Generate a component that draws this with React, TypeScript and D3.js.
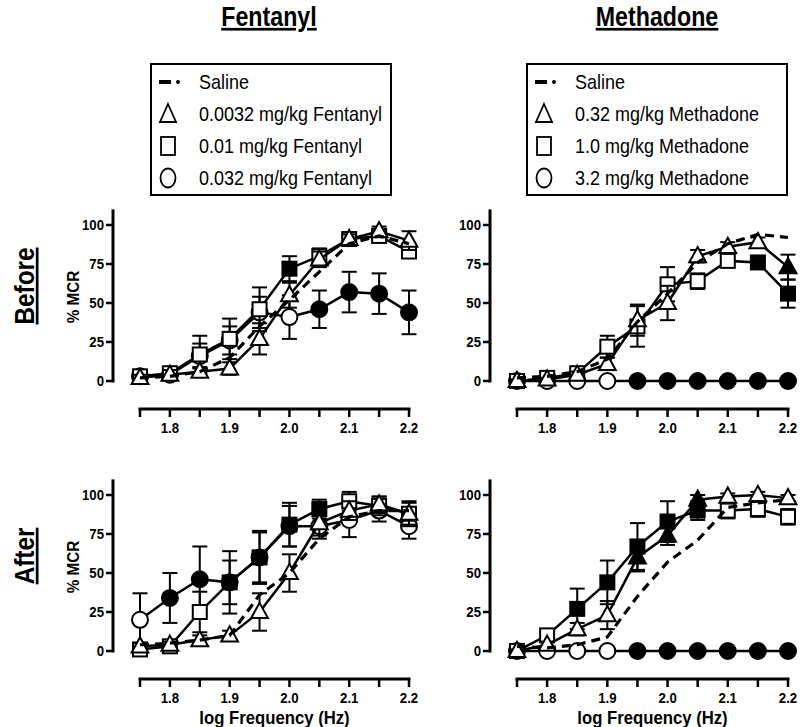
import React from 'react';
import * as d3 from 'd3';

// ---------- data ----------
const freqs = [1.75, 1.8, 1.85, 1.9, 1.95, 2.0, 2.05, 2.1, 2.15, 2.2];
const xTicks = [1.75, 1.8, 1.85, 1.9, 1.95, 2.0, 2.05, 2.1, 2.15, 2.2];
const xTickLabels = ['', '1.8', '', '1.9', '', '2.0', '', '2.1', '', '2.2'];
const yTicks = [0, 25, 50, 75, 100];

const columnTitles = ['Fentanyl', 'Methadone'];
const rowTitles = ['Before', 'After'];
const fentLegend = ['Saline', '0.0032 mg/kg Fentanyl', '0.01 mg/kg Fentanyl', '0.032 mg/kg Fentanyl'];
const methLegend = ['Saline', '0.32 mg/kg Methadone', '1.0 mg/kg Methadone', '3.2 mg/kg Methadone'];

// Before – Fentanyl
const bfSaline = [2, 3, 6, 15, 35, 52, 70, 88, 93, 88];
const bfTri = [2, 4, 6, 8, 27, 55, 78, 91, 96, 90];
const bfTriErr = [2, 3, 3, 4, 10, 8, 5, 3, 3, 6];
const bfTriFill = [0, 0, 0, 0, 0, 0, 0, 0, 0, 0];
const bfSq = [3, 5, 17, 27, 46, 72, 80, 91, 93, 83];
const bfSqErr = [2, 4, 12, 13, 14, 8, 5, 3, 3, 4];
const bfSqFill = [0, 0, 0, 0, 0, 1, 0, 0, 0, 0];
const bfCirc = [3, 4, 16, 26, 44, 41, 46, 57, 56, 44];
const bfCircErr = [2, 3, 8, 9, 10, 14, 12, 13, 13, 14];
const bfCircFill = [0, 0, 0, 0, 0, 0, 1, 1, 1, 1];

// Before – Methadone
const bmSaline = [2, 3, 6, 14, 38, 56, 76, 88, 94, 92];
const bmTri = [0, 1, 4, 11, 39, 50, 80, 86, 89, 73];
const bmTriErr = [1, 1, 2, 4, 10, 11, 4, 3, 3, 8];
const bmTriFill = [0, 0, 0, 0, 0, 0, 0, 0, 0, 1];
const bmSq = [0, 2, 5, 22, 35, 62, 64, 77, 76, 56];
const bmSqErr = [1, 1, 3, 7, 13, 11, 5, 4, 4, 9];
const bmSqFill = [0, 0, 0, 0, 0, 0, 0, 0, 1, 1];
const bmCirc = [0, 0, 0, 0, 0, 0, 0, 0, 0, 0];
const bmCircErr = [0, 0, 0, 0, 0, 0, 0, 0, 0, 0];
const bmCircFill = [0, 0, 0, 0, 1, 1, 1, 1, 1, 1];

// After – Fentanyl
const afSaline = [4, 5, 7, 10, 36, 50, 72, 86, 90, 90];
const afTri = [3, 4, 7, 10, 25, 50, 82, 90, 94, 88];
const afTriErr = [2, 2, 3, 3, 12, 12, 8, 6, 5, 7];
const afTriFill = [0, 0, 0, 0, 0, 0, 0, 0, 0, 0];
const afSq = [1, 3, 25, 44, 60, 81, 91, 96, 93, 88];
const afSqErr = [1, 2, 13, 20, 17, 14, 6, 6, 6, 8];
const afSqFill = [0, 0, 0, 1, 1, 1, 1, 0, 0, 0];
const afCirc = [20, 34, 46, 44, 60, 80, 80, 84, 90, 80];
const afCircErr = [17, 16, 21, 14, 16, 13, 8, 11, 7, 8];
const afCircFill = [0, 1, 1, 1, 1, 1, 0, 0, 0, 0];

// After – Methadone
const amSaline = [3, 2, 4, 9, 35, 57, 71, 92, 95, 97];
const amTri = [0, 4, 14, 23, 60, 74, 97, 99, 100, 98];
const amTriErr = [1, 2, 4, 9, 9, 6, 3, 2, 2, 2];
const amTriFill = [0, 0, 0, 0, 1, 1, 1, 0, 0, 0];
const amSq = [0, 10, 27, 44, 67, 83, 90, 90, 91, 86];
const amSqErr = [1, 4, 13, 14, 15, 13, 6, 5, 5, 5];
const amSqFill = [0, 0, 1, 1, 1, 1, 1, 0, 0, 0];
const amCirc = [0, 0, 0, 0, 0, 0, 0, 0, 0, 0];
const amCircErr = [0, 0, 0, 0, 0, 0, 0, 0, 0, 0];
const amCircFill = [0, 0, 0, 0, 1, 1, 1, 1, 1, 1];

// ---------- helpers ----------
const FONT = '"Liberation Sans", Arial, sans-serif';
const MS = 16; // marker size

type Series = { kind: 'saline' | 'tri' | 'sq' | 'circ'; vals: number[]; err?: number[]; fill?: number[] };

function Narrow({ x, y, size, bold, anchor, rot, sx, underline, children }: any) {
  return (
    <g transform={`translate(${x},${y}) rotate(${rot || 0}) scale(${sx || 0.88},1)`}>
      <text
        x={0}
        y={0}
        dy="0.36em"
        textAnchor={anchor || 'start'}
        fontFamily={FONT}
        fontWeight={bold ? 'bold' : 'normal'}
        fontSize={size}
        textDecoration={underline ? 'underline' : undefined}
      >
        {children}
      </text>
    </g>
  );
}

function Marker({ kind, cx, cy, filled }: { kind: string; cx: number; cy: number; filled: boolean }) {
  const fill = filled ? '#000' : '#fff';
  const sw = 2;
  if (kind === 'tri') {
    const h = MS * 0.95;
    const w = MS * 1.05;
    const p = `${cx},${cy - h * 0.6} ${cx + w / 2},${cy + h * 0.4} ${cx - w / 2},${cy + h * 0.4}`;
    return <polygon points={p} fill={fill} stroke="#000" strokeWidth={sw} />;
  }
  if (kind === 'sq') {
    const s = MS - 2;
    return <rect x={cx - s / 2} y={cy - s / 2} width={s} height={s} fill={fill} stroke="#000" strokeWidth={sw} />;
  }
  return <circle cx={cx} cy={cy} r={MS / 2} fill={fill} stroke="#000" strokeWidth={sw} />;
}

function Panel({ ox, xr, y0, series }: { ox: number; xr: [number, number]; y0: number; series: Series[] }) {
  const x = d3.scaleLinear().domain([1.75, 2.2]).range(xr);
  const y = d3.scaleLinear().domain([0, 100]).range([y0, y0 - 156]);
  const line = d3.line<number>().x((_, i) => x(freqs[i])).y((v) => y(v));
  const axisY = y0 + 28;
  const order = ['circ', 'sq', 'tri', 'saline'];
  return (
    <g>
      {/* y axis */}
      <line x1={ox} x2={ox} y1={y(110)} y2={y(0) + 1.5} stroke="#000" strokeWidth={3} />
      {yTicks.map((t) => (
        <g key={t}>
          <line x1={ox - 7} x2={ox} y1={y(t)} y2={y(t)} stroke="#000" strokeWidth={2.5} />
          <Narrow x={ox - 9} y={y(t)} size={15} bold anchor="end">
            {t}
          </Narrow>
        </g>
      ))}
      {/* x axis */}
      <line x1={x(1.75) - 1.5} x2={x(2.2) + 1.5} y1={axisY} y2={axisY} stroke="#000" strokeWidth={3} />
      {xTicks.map((t, i) => (
        <g key={t}>
          <line x1={x(t)} x2={x(t)} y1={axisY} y2={axisY + 8} stroke="#000" strokeWidth={2.5} />
          <Narrow x={x(t)} y={axisY + 19} size={15} bold anchor="middle">
            {xTickLabels[i]}
          </Narrow>
        </g>
      ))}
      {order.map((kind) =>
        series
          .filter((s) => s.kind === kind)
          .map((s, k) => {
            if (kind === 'saline') {
              return (
                <path key={'s' + k} d={line(s.vals) || ''} fill="none" stroke="#000" strokeWidth={3.2} strokeDasharray="9,6" />
              );
            }
            return (
              <g key={kind + k}>
                <path d={line(s.vals) || ''} fill="none" stroke="#000" strokeWidth={2.5} />
                {s.vals.map((v, i) => {
                  const e = s.err ? s.err[i] : 0;
                  if (!e) return null;
                  const cx = x(freqs[i]);
                  return (
                    <g key={'e' + i}>
                      <line x1={cx} x2={cx} y1={y(v - e)} y2={y(v + e)} stroke="#000" strokeWidth={2} />
                      <line x1={cx - 7.5} x2={cx + 7.5} y1={y(v + e)} y2={y(v + e)} stroke="#000" strokeWidth={2} />
                      <line x1={cx - 7.5} x2={cx + 7.5} y1={y(v - e)} y2={y(v - e)} stroke="#000" strokeWidth={2} />
                    </g>
                  );
                })}
                {s.vals.map((v, i) => (
                  <Marker key={'m' + i} kind={kind} cx={x(freqs[i])} cy={y(v)} filled={!!(s.fill && s.fill[i])} />
                ))}
              </g>
            );
          })
      )}
    </g>
  );
}

function Legend({ x0, y0, w, labels }: { x0: number; y0: number; w: number; labels: string[] }) {
  const rows = [y0 + 18, y0 + 50, y0 + 82, y0 + 114];
  const sx = x0 + 17;
  const tx = x0 + 48;
  return (
    <g>
      <rect x={x0} y={y0} width={w} height={131} fill="#fff" stroke="#000" strokeWidth={2} />
      <line x1={sx - 9} x2={sx + 3} y1={rows[0]} y2={rows[0]} stroke="#000" strokeWidth={4} />
      <circle cx={sx + 10} cy={rows[0]} r={2} fill="#000" />
      <polygon
        points={`${sx},${rows[1] - 10} ${sx + 8},${rows[1] + 8} ${sx - 8},${rows[1] + 8}`}
        fill="none"
        stroke="#000"
        strokeWidth={1.8}
      />
      <rect x={sx - 7} y={rows[2] - 9} width={14} height={18} fill="none" stroke="#000" strokeWidth={1.8} />
      <ellipse cx={sx} cy={rows[3]} rx={7.5} ry={9.5} fill="none" stroke="#000" strokeWidth={1.8} />
      {labels.map((l, i) => (
        <Narrow key={l} x={tx} y={rows[i]} size={20} sx={0.9}>
          {l}
        </Narrow>
      ))}
    </g>
  );
}

export default function App() {
  const W = 800;
  const H = 727;
  const cols = [
    { ox: 113, xr: [140, 409] as [number, number], cx: 269, lx: 151, lw: 240, legend: fentLegend },
    { ox: 490, xr: [517, 788] as [number, number], cx: 657, lx: 527, lw: 260, legend: methLegend },
  ];
  const rows = [381, 651];
  const data: Series[][][] = [
    [
      [
        { kind: 'saline', vals: bfSaline },
        { kind: 'tri', vals: bfTri, err: bfTriErr, fill: bfTriFill },
        { kind: 'sq', vals: bfSq, err: bfSqErr, fill: bfSqFill },
        { kind: 'circ', vals: bfCirc, err: bfCircErr, fill: bfCircFill },
      ],
      [
        { kind: 'saline', vals: bmSaline },
        { kind: 'tri', vals: bmTri, err: bmTriErr, fill: bmTriFill },
        { kind: 'sq', vals: bmSq, err: bmSqErr, fill: bmSqFill },
        { kind: 'circ', vals: bmCirc, err: bmCircErr, fill: bmCircFill },
      ],
    ],
    [
      [
        { kind: 'saline', vals: afSaline },
        { kind: 'tri', vals: afTri, err: afTriErr, fill: afTriFill },
        { kind: 'sq', vals: afSq, err: afSqErr, fill: afSqFill },
        { kind: 'circ', vals: afCirc, err: afCircErr, fill: afCircFill },
      ],
      [
        { kind: 'saline', vals: amSaline },
        { kind: 'tri', vals: amTri, err: amTriErr, fill: amTriFill },
        { kind: 'sq', vals: amSq, err: amSqErr, fill: amSqFill },
        { kind: 'circ', vals: amCirc, err: amCircErr, fill: amCircFill },
      ],
    ],
  ];
  return (
    <svg width={W} height={H} style={{ position: 'absolute', left: 0, top: 0, background: '#fff' }}>
      <rect width={W} height={H} fill="#fff" />
      {cols.map((c, i) => (
        <g key={'c' + i}>
          <Narrow x={c.cx} y={16} size={27} bold anchor="middle" sx={0.86} underline>
            {columnTitles[i]}
          </Narrow>
          <Legend x0={c.lx} y0={64} w={c.lw} labels={c.legend} />
        </g>
      ))}
      {rows.map((y0, r) => (
        <g key={'r' + r}>
          <Narrow x={24} y={y0 - 95} size={27} bold anchor="middle" rot={-90} sx={0.9} underline>
            {rowTitles[r]}
          </Narrow>
          <Narrow x={73} y={y0 - 84} size={17} bold anchor="middle" rot={-90} sx={0.9}>
            % MCR
          </Narrow>
          {cols.map((c, ci) => (
            <Panel key={ci} ox={c.ox} xr={c.xr} y0={y0} series={data[r][ci]} />
          ))}
        </g>
      ))}
      {cols.map((c, i) => (
        <Narrow key={'xl' + i} x={(c.xr[0] + c.xr[1]) / 2} y={rows[1] + 66} size={19} bold anchor="middle">
          log Frequency (Hz)
        </Narrow>
      ))}
    </svg>
  );
}
